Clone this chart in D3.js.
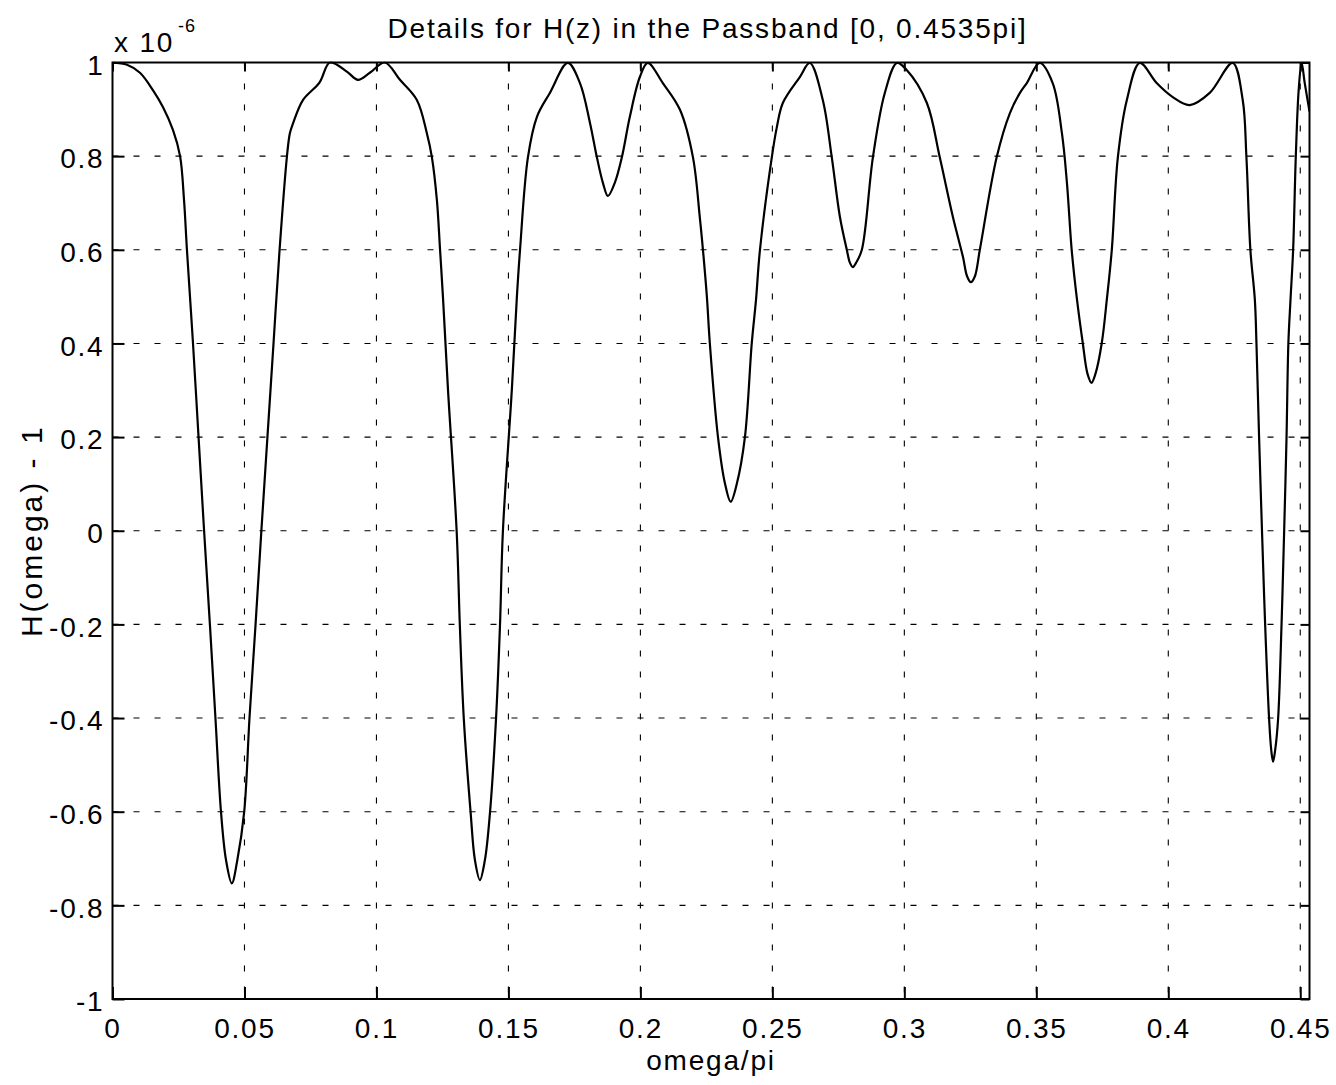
<!DOCTYPE html>
<html><head><meta charset="utf-8">
<script src="https://cdn.jsdelivr.net/npm/d3@7"></script>
<style>
body{margin:0;background:#fff}
text{font-family:"Liberation Sans",Arial,Helvetica,sans-serif;fill:#000}
</style></head><body>
<svg id="chart" width="1336" height="1085"></svg>
<script>
// ---- data (values in units of 1e-6) ----
const omegaOverPi = [
0.0000,0.0055,0.0104,0.0153,0.0191,0.0229,0.0256,0.0271,0.0282,0.0305,0.0326,0.0347,0.0369,0.0390,0.0411,0.0430,0.0452,0.0473,0.0499,0.0519,0.0542,0.0564,0.0587,0.0610,0.0633,0.0661,0.0672,0.0684,0.0722,0.0784,0.0824,0.0889,0.0930,0.0975,0.1032,0.1089,0.1153,0.1191,0.1210,0.1229,0.1241,0.1252,0.1271,0.1304,0.1316,0.1331,0.1357,0.1373,0.1392,0.1411,0.1430,0.1453,0.1468,0.1479,0.1513,0.1532,0.1544,0.1574,0.1608,0.1657,0.1725,0.1771,0.1809,0.1835,0.1858,0.1877,0.1903,0.1930,0.1960,0.1998,0.2028,0.2085,0.2150,0.2199,0.2225,0.2237,0.2252,0.2263,0.2294,0.2320,0.2342,0.2366,0.2396,0.2422,0.2438,0.2453,0.2498,0.2517,0.2540,0.2604,0.2642,0.2691,0.2725,0.2756,0.2782,0.2794,0.2805,0.2817,0.2839,0.2881,0.2926,0.2972,0.3009,0.3085,0.3134,0.3184,0.3222,0.3238,0.3252,0.3267,0.3286,0.3350,0.3400,0.3438,0.3464,0.3513,0.3562,0.3597,0.3616,0.3634,0.3653,0.3676,0.3694,0.3709,0.3724,0.3748,0.3767,0.3786,0.3809,0.3843,0.3892,0.3956,0.4017,0.4081,0.4157,0.4244,0.4282,0.4296,0.4311,0.4328,0.4334,0.4344,0.4355,0.4367,0.4382,0.4390,0.4397,0.4405,0.4416,0.4429,0.4439,0.4448,0.4455,0.4463,0.4473,0.4483,0.4494,0.4505,0.4517,0.4535];
const hMinus1 = [
1.000,0.995,0.978,0.941,0.905,0.856,0.800,0.706,0.600,0.400,0.200,0.000,-0.200,-0.400,-0.600,-0.703,-0.753,-0.703,-0.600,-0.400,-0.200,0.000,0.200,0.400,0.600,0.800,0.849,0.870,0.920,0.957,1.000,0.980,0.963,0.978,1.000,0.963,0.920,0.849,0.798,0.706,0.600,0.499,0.302,-0.002,-0.203,-0.402,-0.603,-0.703,-0.746,-0.703,-0.603,-0.402,-0.203,-0.002,0.302,0.499,0.600,0.798,0.884,0.935,0.999,0.956,0.871,0.798,0.743,0.715,0.743,0.798,0.884,0.969,0.999,0.956,0.899,0.798,0.670,0.600,0.499,0.401,0.200,0.102,0.062,0.102,0.200,0.401,0.493,0.600,0.798,0.862,0.914,0.969,0.999,0.920,0.798,0.670,0.600,0.572,0.563,0.572,0.600,0.798,0.935,0.999,0.984,0.914,0.798,0.670,0.585,0.543,0.531,0.543,0.600,0.798,0.892,0.935,0.956,0.999,0.956,0.849,0.743,0.600,0.499,0.401,0.335,0.316,0.335,0.401,0.493,0.600,0.798,0.920,0.999,0.956,0.926,0.909,0.935,0.999,0.920,0.798,0.600,0.493,0.401,0.200,0.000,-0.201,-0.402,-0.468,-0.493,-0.468,-0.402,-0.201,0.000,0.200,0.401,0.493,0.600,0.798,0.941,0.999,0.956,0.895];
const xTicks = [0,0.05,0.1,0.15,0.2,0.25,0.3,0.35,0.4,0.45];
const xTickLabels = ["0","0.05","0.1","0.15","0.2","0.25","0.3","0.35","0.4","0.45"];
const yTicks = [-1,-0.8,-0.6,-0.4,-0.2,0,0.2,0.4,0.6,0.8,1];
const yTickLabels = ["-1","-0.8","-0.6","-0.4","-0.2","0","0.2","0.4","0.6","0.8","1"];
const titleText = "Details for H(z) in the Passband [0, 0.4535pi]";
const xLabelText = "omega/pi";
const yLabelText = "H(omega) - 1";

// ---- layout ----
const L = 112.5, T = 62.5, W = 1197, H = 936.5;
const FS = 28, LS = 1.8;
const svg = d3.select("#chart");
const x = d3.scaleLinear().domain([0, 0.4535]).range([L, L + W]);
const y = d3.scaleLinear().domain([-1, 1]).range([T + H, T]);

// grid
const grid = svg.append("g").attr("stroke", "#000").attr("stroke-width", 1.1)
  .attr("stroke-dasharray", "6,15").attr("fill", "none");
grid.selectAll("line.vx").data(xTicks.filter(d => d > 0)).join("line")
  .attr("x1", d => x(d)).attr("x2", d => x(d)).attr("y1", T).attr("y2", T + H);
grid.selectAll("line.hy").data(yTicks.filter(d => d > -1 && d < 1)).join("line")
  .attr("x1", L).attr("x2", L + W).attr("y1", d => y(d)).attr("y2", d => y(d));

// curve
const line = d3.line().x((d, i) => x(omegaOverPi[i])).y(d => y(d)).curve(d3.curveCatmullRom.alpha(0.5));
svg.append("defs").append("clipPath").attr("id", "clip").append("rect")
  .attr("x", L).attr("y", T - 1).attr("width", W).attr("height", H + 2);
svg.append("path").datum(hMinus1).attr("d", line).attr("fill", "none")
  .attr("stroke", "#000").attr("stroke-width", 2.2).attr("stroke-linejoin", "round")
  .attr("clip-path", "url(#clip)");

// axes
function styleAxis(g) {
  g.select(".domain").remove();
  g.selectAll(".tick line").attr("stroke", "#000").attr("stroke-width", 2);
  g.selectAll(".tick text").attr("font-size", FS).attr("letter-spacing", LS)
    .attr("font-family", '"Liberation Sans",Arial,sans-serif');
}
svg.append("g").attr("transform", `translate(0,${T + H})`)
  .call(d3.axisBottom(x).tickValues(xTicks).tickFormat((d, i) => xTickLabels[i])
    .tickSizeInner(-12).tickSizeOuter(0).tickPadding(19)).call(styleAxis);
svg.append("g").attr("transform", `translate(${L},0)`)
  .call(d3.axisLeft(y).tickValues(yTicks).tickFormat((d, i) => yTickLabels[i])
    .tickSizeInner(-12).tickSizeOuter(0).tickPadding(8)).call(styleAxis)
  .selectAll(".tick text").attr("dy", "0.42em");
svg.append("g").attr("transform", `translate(0,${T})`)
  .call(d3.axisTop(x).tickValues(xTicks).tickFormat("").tickSizeInner(-9).tickSizeOuter(0)).call(styleAxis);
svg.append("g").attr("transform", `translate(${L + W},0)`)
  .call(d3.axisRight(y).tickValues(yTicks).tickFormat("").tickSizeInner(-9).tickSizeOuter(0)).call(styleAxis);

// box
svg.append("rect").attr("x", L).attr("y", T).attr("width", W).attr("height", H)
  .attr("fill", "none").attr("stroke", "#000").attr("stroke-width", 2);

// texts
svg.append("text").attr("x", 707.5).attr("y", 38).attr("text-anchor", "middle")
  .attr("font-size", FS).attr("letter-spacing", LS).text(titleText);
svg.append("text").attr("x", 711).attr("y", 1070).attr("text-anchor", "middle")
  .attr("font-size", FS).attr("letter-spacing", LS).text(xLabelText);
svg.append("text").attr("transform", `translate(42,${T + H / 2}) rotate(-90)`)
  .attr("text-anchor", "middle").attr("font-size", 30).attr("letter-spacing", 3).text(yLabelText);
svg.append("text").attr("x", 114).attr("y", 52).attr("font-size", FS).attr("letter-spacing", LS).text("x 10");
svg.append("text").attr("x", 178).attr("y", 32).attr("font-size", 18).attr("letter-spacing", 1).text("-6");
</script></body></html>
